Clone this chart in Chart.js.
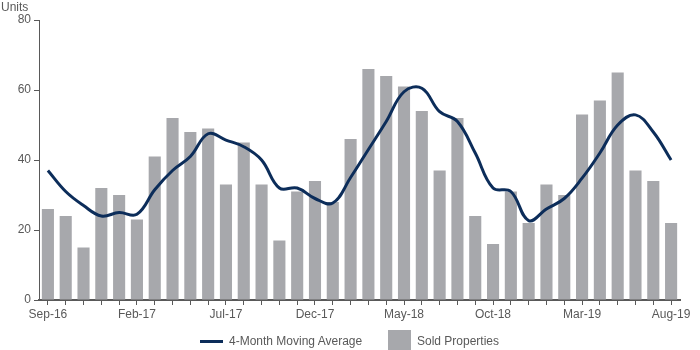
<!DOCTYPE html>
<html>
<head>
<meta charset="utf-8">
<script src="https://cdn.jsdelivr.net/npm/chart.js@4"></script>
<style>
  body { margin: 0; font-family: "Liberation Sans", Arial, sans-serif; }
  .wrap { position: relative; width: 700px; height: 350px; }
  .units { position: absolute; left: 1px; top: 0px; font-size: 12px; color: #595959; }
  .legend { position: absolute; top: 331px; left: 0; width: 700px; height: 20px; font-size: 12px; color: #595959; }
  .legend .item { position: absolute; top: 0; display: flex; align-items: center; height: 20px; }
  .legend .ln { width: 23px; height: 3px; background: #0c2d5a; margin-right: 6px; }
  .legend .bx { width: 23px; height: 22px; background: #a7a8ac; margin-right: 6px; }
</style>
</head>
<body>
<div class="wrap">
  <canvas id="myChart" width="700" height="350"></canvas>
  <div class="units">Units</div>
  <div class="legend">
    <div class="item" style="left:200px"><span class="ln"></span>4-Month Moving Average</div>
    <div class="item" style="left:388px"><span class="bx"></span>Sold Properties</div>
  </div>
</div>
<script>
const months = ['Sep-16','Oct-16','Nov-16','Dec-16','Jan-17','Feb-17','Mar-17','Apr-17','May-17','Jun-17','Jul-17','Aug-17',
  'Sep-17','Oct-17','Nov-17','Dec-17','Jan-18','Feb-18','Mar-18','Apr-18','May-18','Jun-18','Jul-18','Aug-18',
  'Sep-18','Oct-18','Nov-18','Dec-18','Jan-19','Feb-19','Mar-19','Apr-19','May-19','Jun-19','Jul-19','Aug-19']
const soldProperties = [26,24,15,32,30,23,41,52,48,49,33,45,33,17,31,34,28,46,66,64,61,54,37,52,24,16,31,22,33,30,53,57,65,37,34,22]
const movingAverage = [37,31,27,24,25,24.5,31.5,37,41,47.5,45.7,43.8,40,32,32,29,27.7,35,43,51,59.5,60.5,53.8,51,42,32,31,22.7,26,29,34.8,42,50,52.9,48,40]
const yTicks = [0,20,40,60,80]

const grey = '#595959'

const ctx = document.getElementById('myChart').getContext('2d')
new Chart(ctx, {
  type: 'bar',
  data: {
    labels: months,
    datasets: [
      {
        type: 'line',
        label: '4-Month Moving Average',
        data: movingAverage,
        borderColor: '#0c2d5a',
        borderWidth: 3,
        pointRadius: 0,
        tension: 0.4,
        fill: false,
        order: 0
      },
      {
        label: 'Sold Properties',
        data: soldProperties,
        backgroundColor: '#a7a8ac',
        categoryPercentage: 1,
        barPercentage: 0.68,
        order: 1
      }
    ]
  },
  options: {
    responsive: false,
    animation: false,
    layout: { padding: { left: 2, right: 20, top: 20, bottom: 24 } },
    plugins: { legend: { display: false }, tooltip: { enabled: false } },
    scales: {
      x: {
        offset: true,
        grid: { offset: false, drawOnChartArea: false, drawTicks: true, tickLength: 5, color: grey },
        border: { color: grey, width: 2 },
        ticks: {
          autoSkip: false,
          maxRotation: 0,
          padding: 2,
          color: grey,
          font: { family: '"Liberation Sans", Arial', size: 12 },
          callback: (v, i) => (i % 5 === 0 ? months[i] : '')
        },
        afterFit: s => { s.height = 26 }
      },
      y: {
        min: 0,
        max: 80,
        afterBuildTicks: s => { s.ticks = yTicks.map(v => ({ value: v })) },
        grid: { drawOnChartArea: false, drawTicks: true, tickLength: 5, color: grey },
        border: { color: grey, width: 1 },
        ticks: {
          padding: 3,
          color: grey,
          font: { family: '"Liberation Sans", Arial', size: 12 }
        },
        afterFit: s => { s.width = 37 }
      }
    }
  }
})
</script>
</body>
</html>
